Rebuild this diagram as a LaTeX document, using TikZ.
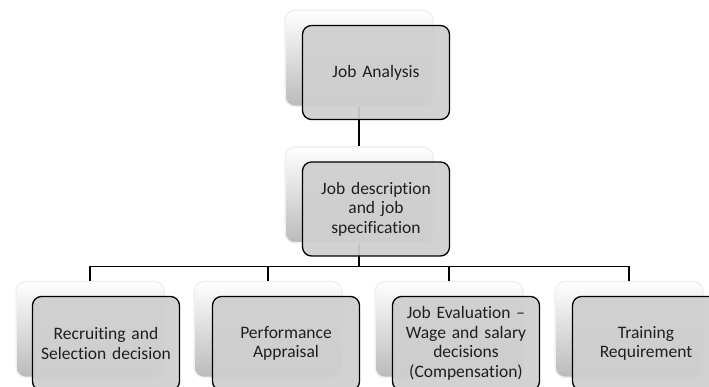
\documentclass[tikz,border=0pt]{standalone}
\usepackage{fontspec}
\setmainfont{Carlito}[Ligatures={NoCommon,NoContextual}]
\usetikzlibrary{calc}

\begin{document}
\begin{tikzpicture} [x=1pt,y=1pt,
  backbox/.style={shade,top color=white,bottom color=black!27,draw=black!6,line width=1.5pt,
    rounded corners=10pt,minimum width=148pt,minimum height=96pt,inner sep=0pt},
  frontbox/.style={fill=black!19,fill opacity=0.94,text opacity=1,draw=black,line width=1.3pt,
    rounded corners=9pt,minimum width=147pt,minimum height=94pt,inner sep=2pt,
    text width=140pt,align=center,text=black!88,font=\fontsize{17.5}{19.5}\selectfont},
  link/.style={draw=black,line width=1.4pt}]
\useasboundingbox (0,0) rectangle (709,387);
% shadow boxes
\node[backbox] (jaBack) at (359,328.5) {};
\node[backbox] (jdBack) at (359,192) {};
\node[backbox] (rsBack) at (90,57.5) {};
\node[backbox] (paBack) at (268,57.5) {};
\node[backbox] (jeBack) at (449,57.5) {};
\node[backbox] (trBack) at (629,57.5) {};
% connectors
\draw[link] (jaBack.south) -- (jdBack.north);
\foreach \kid in {rsBack,paBack,jeBack,trBack}
  \draw[link] (jdBack.south) |- ([yshift=14pt]\kid.north) -- (\kid.north);
% boxes
\node[frontbox] (ja) at ([shift={(17,-14)}]jaBack.center) {Job Analysis};
\node[frontbox] (jd) at ([shift={(17,-14)}]jdBack.center) {Job description\\ and job\\ specification};
\node[frontbox] (rs) at ([shift={(16,-14)}]rsBack.center) {Recruiting and\\ Selection decision};
\node[frontbox] (pa) at ([shift={(18,-14)}]paBack.center) {Performance\\ Appraisal};
\node[frontbox] (je) at ([shift={(17,-14)}]jeBack.center) {Job Evaluation --\\ Wage and salary\\ decisions\\ (Compensation)};
\node[frontbox] (tr) at ([shift={(17,-14)}]trBack.center) {Training\\ Requirement};
\end{tikzpicture}
\end{document}
